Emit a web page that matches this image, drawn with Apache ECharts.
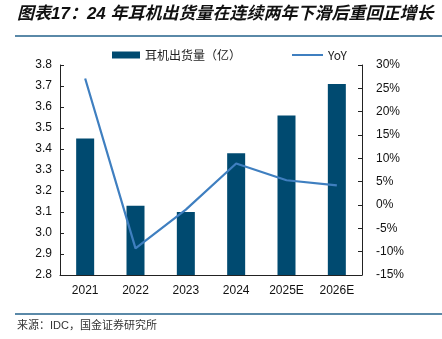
<!DOCTYPE html>
<html>
<head>
<meta charset="utf-8">
<script src="https://cdn.jsdelivr.net/npm/echarts@6/dist/echarts.min.js"></script>
<style>
html,body{margin:0;padding:0;background:#fff;}
#chart{width:442px;height:339px;}
</style>
</head>
<body>
<div id="chart"></div>
<script>
const categories = ['2021', '2022', '2023', '2024', '2025E', '2026E'];
const shipments = [3.45, 3.13, 3.10, 3.38, 3.56, 3.71];
const yoy = [27.1, -9.3, -1.0, 8.9, 5.3, 4.2];
const leftTicks = [2.8, 3.8, 0.1];
const rightTicks = [-15, 30, 5];

const chart = echarts.init(document.getElementById('chart'));
const font = '"Liberation Sans", Arial, "Noto Sans CJK SC", sans-serif';
const axisColor = '#222';
const legendText = { fontSize: 12, color: '#222', fontFamily: '"Noto Sans CJK SC", sans-serif' };
chart.setOption({
  animation: false,
  textStyle: { fontFamily: font },
  graphic: [
    { type: 'text', left: 17, top: 6, style: { text: '图表17：24 年耳机出货量在连续两年下滑后重回正增长', font: 'italic bold 17px "Liberation Sans", "Noto Sans CJK SC", sans-serif', fill: '#111' } },
    { type: 'rect', shape: { x: 15, y: 35, width: 427, height: 2 }, style: { fill: '#5a89a8' } },
    { type: 'rect', shape: { x: 15, y: 313, width: 427, height: 2 }, style: { fill: '#5a89a8' } },
    { type: 'text', left: 17, top: 320, style: { text: '来源：IDC，国金证券研究所', font: '11px "Liberation Sans", "Noto Sans CJK SC", sans-serif', fill: '#333' } }
  ],
  legend: [
    {
      top: 44, left: 107, itemWidth: 28, itemHeight: 7, itemGap: 6,
      textStyle: legendText,
      data: [{ name: '耳机出货量（亿）', icon: 'rect' }]
    },
    {
      top: 44, left: 287, itemWidth: 31, itemHeight: 2,
      textStyle: legendText,
      data: [{ name: 'YoY', icon: 'rect' }]
    }
  ],
  grid: { left: 60, right: 80, top: 65, bottom: 64 },
  xAxis: {
    type: 'category', data: categories,
    axisLine: { onZero: false, lineStyle: { color: axisColor, width: 1 } },
    axisTick: { inside: true, length: 4, lineStyle: { color: axisColor } },
    axisLabel: { color: '#111', fontSize: 12, margin: 10 }
  },
  yAxis: [
    {
      type: 'value', min: leftTicks[0], max: leftTicks[1], interval: leftTicks[2],
      axisLine: { show: true, onZero: false, lineStyle: { color: axisColor } },
      axisTick: { show: true, inside: true, length: 4, lineStyle: { color: axisColor } },
      splitLine: { show: false },
      axisLabel: { color: '#111', fontSize: 12, margin: 8, formatter: v => v.toFixed(1) }
    },
    {
      type: 'value', min: rightTicks[0], max: rightTicks[1], interval: rightTicks[2],
      axisLine: { show: true, onZero: false, lineStyle: { color: axisColor } },
      axisTick: { show: true, inside: true, length: 4, lineStyle: { color: axisColor } },
      splitLine: { show: false },
      axisLabel: { color: '#111', fontSize: 12, margin: 14, formatter: v => v + '%' }
    }
  ],
  series: [
    {
      name: '耳机出货量（亿）', type: 'bar', data: shipments, barWidth: 18,
      itemStyle: { color: '#004a70' }
    },
    {
      name: 'YoY', type: 'line', yAxisIndex: 1, data: yoy, symbol: 'none',
      lineStyle: { color: '#3f7fc0', width: 2.2 }, itemStyle: { color: '#3f7fc0' }
    }
  ]
});
</script>
</body>
</html>
